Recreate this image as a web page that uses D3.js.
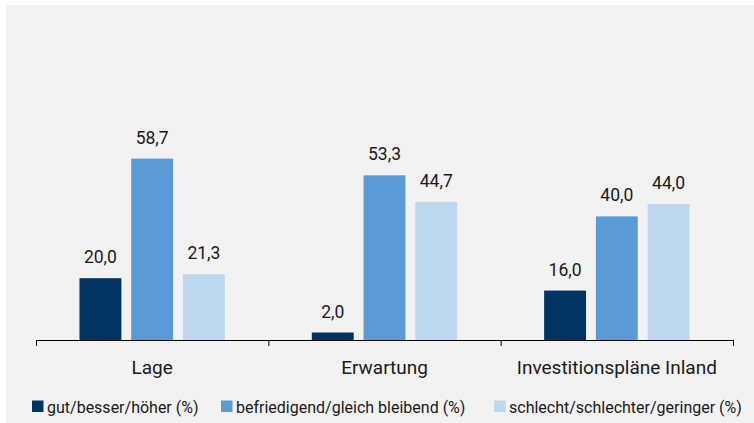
<!DOCTYPE html>
<html>
<head>
<meta charset="utf-8">
<script src="https://cdn.jsdelivr.net/npm/d3@7"></script>
<style>
  body { margin: 0; background: #fff; }
  svg { display: block; }
  text { font-family: Roboto, "Open Sans", sans-serif; fill: #1a1a1a; }
</style>
</head>
<body>
<div id="chart"></div>
<script>
// DATA
const categories = ["Lage", "Erwartung", "Investitionspläne Inland"];
const seriesNames = ["gut/besser/höher (%)", "befriedigend/gleich bleibend (%)", "schlecht/schlechter/geringer (%)"];
const gutValues = [20.0, 2.0, 16.0];
const befriedigendValues = [58.7, 53.3, 40.0];
const schlechtValues = [21.3, 44.7, 44.0];
const seriesValues = [gutValues, befriedigendValues, schlechtValues];
const colors = ["#003463", "#5b9bd5", "#bdd7ee"];

const W = 754, H = 423;
const axisY = 340;

const svg = d3.select("#chart").append("svg")
  .attr("width", W)
  .attr("height", H);

// background panel
svg.append("rect")
  .attr("x", 6).attr("y", 5)
  .attr("width", W - 6).attr("height", H - 5)
  .attr("fill", "#f2f2f2");

// SCALES
const x0 = d3.scaleBand().domain(categories).range([36, 733]).padding(0);
const groupW = 145.4;
const x1 = d3.scaleBand().domain(d3.range(3)).range([0, groupW]).paddingInner(0.19).paddingOuter(0);
const y = d3.scaleLinear().domain([0, 60]).range([axisY, axisY - 60 * 3.09]);

const rows = [];
categories.forEach((c, ci) => {
  seriesValues.forEach((vals, si) => rows.push({ cat: c, s: si, v: vals[ci] }));
});

// BARS
const g = svg.append("g");
g.selectAll("rect.bar")
  .data(rows)
  .enter().append("rect")
  .attr("class", "bar")
  .attr("x", d => x0(d.cat) + (x0.bandwidth() - groupW) / 2 + x1(d.s))
  .attr("y", d => Math.min(y(d.v), axisY - 7.5))
  .attr("width", x1.bandwidth())
  .attr("height", d => axisY + 0.5 - Math.min(y(d.v), axisY - 7.5))
  .attr("fill", d => colors[d.s]);

// VALUE LABELS
g.selectAll("text.val")
  .data(rows)
  .enter().append("text")
  .attr("class", "val")
  .attr("x", d => x0(d.cat) + (x0.bandwidth() - groupW) / 2 + x1(d.s) + x1.bandwidth() / 2)
  .attr("y", d => Math.min(y(d.v), axisY - 7.5) - 15)
  .attr("text-anchor", "middle")
  .style("font-size", "17.5px")
  .text(d => d.v.toFixed(1).replace(".", ","));

// AXIS
const xb = d3.scaleLinear().domain([0, 3]).range([36, 733]);
svg.append("g")
  .attr("transform", `translate(0,${axisY})`)
  .call(d3.axisBottom(xb).tickValues([0, 1, 2, 3]).tickSizeInner(6).tickSizeOuter(0).tickFormat(""))
  .call(a => a.selectAll("path, line").attr("stroke", "#000"));

svg.append("g")
  .attr("transform", `translate(0,${axisY})`)
  .call(d3.axisBottom(x0).tickSize(0))
  .call(a => a.select(".domain").remove())
  .call(a => a.selectAll("text")
    .attr("y", 33.5).attr("dy", 0)
    .style("font-size", "19px")
    .style("font-family", "Roboto, sans-serif")
    .attr("fill", "#1a1a1a"));

// LEGEND
const legendX = [32, 221, 494];
const legend = svg.append("g");
legend.selectAll("rect")
  .data(seriesNames)
  .enter().append("rect")
  .attr("x", (d, i) => legendX[i])
  .attr("y", 400.5)
  .attr("width", 11.5)
  .attr("height", 11.5)
  .attr("fill", (d, i) => colors[i]);
legend.selectAll("text")
  .data(seriesNames)
  .enter().append("text")
  .attr("x", (d, i) => legendX[i] + 15)
  .attr("y", 412.5)
  .style("font-size", "16px")
  .text(d => d);
</script>
</body>
</html>
